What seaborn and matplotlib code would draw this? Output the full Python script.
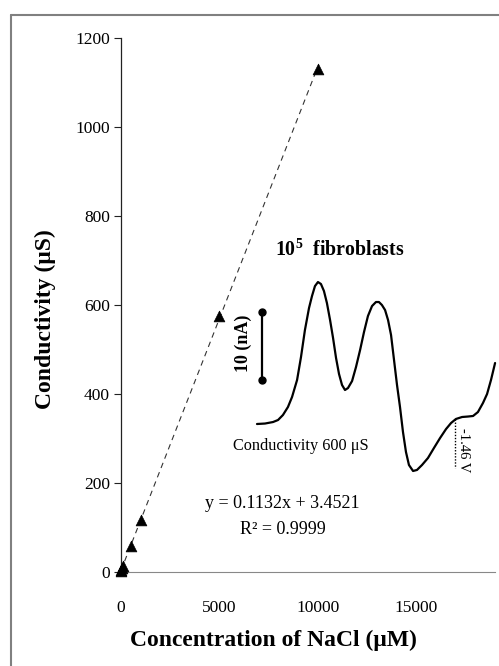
import matplotlib
matplotlib.use("Agg")
import matplotlib.pyplot as plt
from matplotlib.lines import Line2D
import seaborn as sns
import pandas as pd

# ---- data ----
conc_uM = [0, 10, 50, 100, 500, 1000, 5000, 10000]
conductivity_uS = [1.5, 4, 8, 14, 58, 117, 575, 1131]
fit_slope = 0.1132
fit_intercept = 3.4521
fit_x = [0, 10000]
x_ticks = [0, 5000, 10000, 15000]
y_ticks = [0, 200, 400, 600, 800, 1000, 1200]

# inset voltammogram (potential V, current nA)
potential_V = [-0.200, -0.251, -0.302, -0.334, -0.365, -0.397, -0.423, -0.455,
               -0.480, -0.505, -0.531, -0.550, -0.569, -0.588, -0.607, -0.626,
               -0.645, -0.665, -0.684, -0.703, -0.722, -0.741, -0.760, -0.779,
               -0.805, -0.830, -0.856, -0.881, -0.906, -0.932, -0.957, -0.976,
               -0.995, -1.015, -1.034, -1.053, -1.072, -1.091, -1.110, -1.129,
               -1.148, -1.167, -1.193, -1.218, -1.250, -1.288, -1.326, -1.365,
               -1.403, -1.435, -1.466, -1.505, -1.543, -1.575, -1.606, -1.638,
               -1.664, -1.689, -1.715]
current_nA = [0.00, 0.07, 0.29, 0.59, 1.32, 2.50, 3.97, 6.47,
              9.85, 13.82, 17.06, 18.82, 20.29, 20.88, 20.59, 19.56,
              17.79, 15.29, 12.65, 9.71, 7.35, 5.74, 5.00, 5.29,
              6.32, 8.38, 10.88, 13.53, 15.88, 17.35, 17.94, 17.94,
              17.50, 16.76, 15.29, 13.09, 9.41, 5.74, 2.50, -1.18,
              -4.12, -6.03, -6.91, -6.76, -6.03, -5.00, -3.53, -2.06,
              -0.74, 0.15, 0.74, 1.03, 1.10, 1.18, 1.76, 3.09,
              4.41, 6.47, 8.97]
scalebar_E = [-0.232, -0.232]
scalebar_i = [6.5, 16.5]
marker_E = [-1.46, -1.46]
marker_i = [0.74, -6.5]

sns.set_theme(style="white")
plt.rcParams['font.family'] = ['Liberation Serif', 'DejaVu Serif']
plt.rcParams['mathtext.fontset'] = 'custom'
plt.rcParams['mathtext.rm'] = 'Liberation Serif'
plt.rcParams['mathtext.bf'] = 'Liberation Serif:bold'
plt.rcParams['text.color'] = 'black'
plt.rcParams['axes.labelcolor'] = 'black'
plt.rcParams['xtick.color'] = 'black'
plt.rcParams['ytick.color'] = 'black'

W, H = 499, 666
fig = plt.figure(figsize=(W / 100, H / 100), dpi=100)
fig.patch.set_facecolor('white')

def fx(px):
    return px / W

def fy(py):
    return (H - py) / H

ax = fig.add_axes([fx(121), fy(572), (495 - 121) / W, (572 - 38) / H])
ax.set_facecolor('none')

df_pts = pd.DataFrame({'conc': conc_uM, 'cond': conductivity_uS})
fit_y = [fit_slope * v + fit_intercept for v in fit_x]
df_fit = pd.DataFrame({'conc': fit_x, 'cond': fit_y})

sns.lineplot(data=df_fit, x='conc', y='cond', ax=ax, color='#333333',
             linewidth=0.8, linestyle=(0, (5, 4)))
sns.scatterplot(data=df_pts, x='conc', y='cond', ax=ax, marker='^', s=60,
                color='black', edgecolor='black', linewidth=0.5, zorder=5,
                clip_on=False)

ax.set_xlim(0, 19000)
ax.set_ylim(0, 1200)
ax.set_xticks(x_ticks)
ax.set_xticklabels([str(v) for v in x_ticks])
ax.set_yticks(y_ticks)
ax.set_yticklabels([str(v) for v in y_ticks])
ax.set_xlabel('')
ax.set_ylabel('')
for s in ['top', 'right']:
    ax.spines[s].set_visible(False)
ax.spines['left'].set_color('#222222')
ax.spines['left'].set_linewidth(0.9)
ax.spines['bottom'].set_color('#888888')
ax.spines['bottom'].set_linewidth(0.8)
ax.tick_params(axis='y', direction='out', length=5, width=0.8, color='#222222',
               labelsize=12.5, pad=3, left=True, labelcolor='black')
ax.tick_params(axis='x', length=0, labelsize=12.5, pad=20, bottom=True,
               labelcolor='black')

# inset axes for voltammogram
iax = fig.add_axes([fx(230), fy(480), (499 - 230) / W, (480 - 260) / H])
iax.set_facecolor('none')
df_cv = pd.DataFrame({'E': potential_V, 'i': current_nA})
sns.lineplot(data=df_cv, x='E', y='i', ax=iax, sort=False, color='black',
             linewidth=1.6)
iax.plot(scalebar_E, scalebar_i, color='black', linewidth=1.6,
         marker='o', markersize=5)
iax.plot(marker_E, marker_i, color='black', linewidth=1.0, linestyle=(0, (1, 1.2)))
iax.set_xlim(-0.0282, -1.740)
iax.set_ylim(-8.235, 24.12)
iax.axis('off')

iax.text(-0.111, 11.9, '10 (nA)', rotation=90, ha='center', va='center',
         fontsize=13, fontweight='bold', color='black')
iax.text(-1.517, -3.8, '-1.46 V', rotation=270, ha='center', va='center',
         fontsize=10.5, color='black')

fig.text(fx(301), fy(446), 'Conductivity 600 μS', ha='center', va='center',
         fontsize=11.7, color='black')
fig.text(fx(340), fy(250), r'10$^{\mathbf{5}}$  fibroblasts', ha='center',
         va='center', fontsize=14.3, fontweight='bold', color='black')
fig.text(fx(282), fy(504), 'y = 0.1132x + 3.4521', ha='center', va='center',
         fontsize=13, color='black')
fig.text(fx(282.5), fy(529), 'R² = 0.9999', ha='center', va='center',
         fontsize=13, color='black')

fig.text(fx(45), fy(319), 'Conductivity (μS)', rotation=90, ha='center',
         va='center', fontsize=17, fontweight='bold', color='black')
fig.text(fx(273), fy(640), 'Concentration of NaCl (μM)', ha='center',
         va='center', fontsize=17, fontweight='bold', color='black')

# outer frame (top and left)
fig.add_artist(Line2D([fx(11), 1.0], [fy(15), fy(15)], color='#808080',
                      linewidth=1.5, transform=fig.transFigure))
fig.add_artist(Line2D([fx(11), fx(11)], [fy(15), 0.0], color='#808080',
                      linewidth=1.5, transform=fig.transFigure))

fig.savefig('out.png', dpi=100, facecolor='white')
